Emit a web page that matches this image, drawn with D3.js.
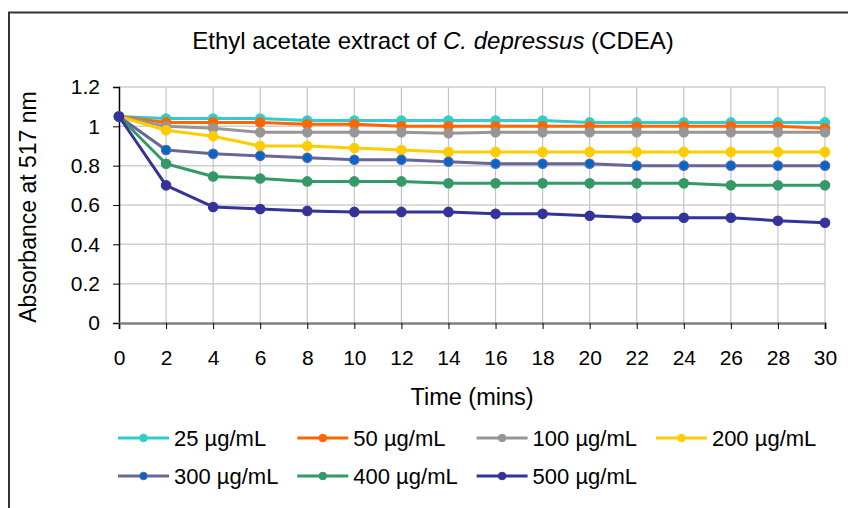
<!DOCTYPE html>
<html>
<head>
<meta charset="utf-8">
<script src="https://cdn.jsdelivr.net/npm/d3@7"></script>
<style>
  html, body { margin: 0; padding: 0; background: #fff; }
  svg { display: block; font-family: "Liberation Sans", Arial, sans-serif; }
</style>
</head>
<body>
<svg id="chart" width="848" height="508"></svg>
<script>
// time points (mins)
const times = [0, 2, 4, 6, 8, 10, 12, 14, 16, 18, 20, 22, 24, 26, 28, 30];
const yTicks = [0, 0.2, 0.4, 0.6, 0.8, 1, 1.2];

// absorbance readings per concentration
const conc25  = [1.05, 1.04, 1.04, 1.04, 1.03, 1.03, 1.03, 1.03, 1.03, 1.03, 1.02, 1.02, 1.02, 1.02, 1.02, 1.02];
const conc50  = [1.05, 1.02, 1.02, 1.02, 1.01, 1.01, 1.00, 1.00, 1.00, 1.00, 1.00, 1.00, 1.00, 1.00, 1.00, 0.99];
const conc100 = [1.05, 1.00, 0.99, 0.97, 0.97, 0.97, 0.97, 0.965, 0.97, 0.97, 0.97, 0.97, 0.97, 0.97, 0.97, 0.97];
const conc200 = [1.05, 0.98, 0.95, 0.90, 0.90, 0.89, 0.88, 0.87, 0.87, 0.87, 0.87, 0.87, 0.87, 0.87, 0.87, 0.87];
const conc300 = [1.05, 0.88, 0.86, 0.85, 0.84, 0.83, 0.83, 0.82, 0.81, 0.81, 0.81, 0.80, 0.80, 0.80, 0.80, 0.80];
const conc400 = [1.05, 0.81, 0.745, 0.735, 0.72, 0.72, 0.72, 0.71, 0.71, 0.71, 0.71, 0.71, 0.71, 0.70, 0.70, 0.70];
const conc500 = [1.05, 0.70, 0.59, 0.58, 0.57, 0.565, 0.565, 0.565, 0.555, 0.555, 0.545, 0.535, 0.535, 0.535, 0.52, 0.51];

const seriesNames = ["25 µg/mL", "50 µg/mL", "100 µg/mL", "200 µg/mL", "300 µg/mL", "400 µg/mL", "500 µg/mL"];
const seriesValues = [conc25, conc50, conc100, conc200, conc300, conc400, conc500];
const lineColors = ["#33CCCC", "#FF6600", "#969696", "#FFCC00", "#666699", "#339966", "#333399"];
const dotColors  = ["#33CCCC", "#FF6600", "#969696", "#FFCC00", "#0066CC", "#339966", "#333399"];

const svg = d3.select("#chart");
const plotL = 119, plotR = 825, plotT = 87, plotB = 323;
const xs = d3.scaleLinear().domain([0, 30]).range([plotL, plotR]);
const ys = d3.scaleLinear().domain([0, 1.2]).range([plotB, plotT]);

// chart area frame (right and bottom edge fall outside the picture)
svg.append("rect").attr("x", 9).attr("y", 12.5).attr("width", 900).attr("height", 600)
   .attr("fill", "none").attr("stroke", "#333").attr("stroke-width", 2);

// title
const title = svg.append("text").attr("x", 433).attr("y", 49).attr("text-anchor", "middle")
   .attr("font-size", 24).attr("fill", "#000");
title.append("tspan").text("Ethyl acetate extract of ");
title.append("tspan").attr("font-style", "italic").text("C. depressus");
title.append("tspan").text(" (CDEA)");

// grid
const grid = svg.append("g");
grid.selectAll("line.h").data(yTicks.slice(1)).enter().append("line")
    .attr("x1", plotL).attr("x2", plotR).attr("y1", d => ys(d)).attr("y2", d => ys(d))
    .attr("stroke", "#cfcfcf").attr("stroke-width", 1.5);
grid.selectAll("line.v").data(times.slice(1)).enter().append("line")
    .attr("x1", d => xs(d)).attr("x2", d => xs(d)).attr("y1", plotT).attr("y2", plotB)
    .attr("stroke", "#c4c4c4").attr("stroke-width", 1.2);

// axes
const yAxis = svg.append("g").attr("transform", `translate(${plotL},0)`)
    .call(d3.axisLeft(ys).tickValues(yTicks).tickSize(6).tickPadding(13).tickFormat(d => d3.format("~g")(d)));
yAxis.select(".domain").attr("stroke", "#000").attr("stroke-width", 1.5);
yAxis.selectAll(".tick line").attr("stroke", "#000");
yAxis.selectAll("text").attr("font-size", 21).attr("font-family", null).attr("fill", "#000");

const xAxis = svg.append("g").attr("transform", `translate(0,${plotB})`)
    .call(d3.axisBottom(xs).tickValues(times).tickSize(6).tickPadding(21));
xAxis.select(".domain").attr("stroke", "#808080").attr("stroke-width", 2.5);
xAxis.selectAll(".tick line").attr("stroke", "#000");
xAxis.selectAll("text").attr("font-size", 21).attr("font-family", null).attr("fill", "#000");

// axis titles
svg.append("text").attr("x", (plotL + plotR) / 2).attr("y", 405).attr("text-anchor", "middle")
   .attr("font-size", 23.5).text("Time (mins)");
svg.append("text").attr("transform", `translate(36,${(plotT + plotB) / 2 + 2}) rotate(-90)`)
   .attr("text-anchor", "middle").attr("font-size", 23).text("Absorbance at 517 nm");

// series
const line = d3.line().x((d, i) => xs(times[i])).y(d => ys(d));
const plot = svg.append("g");
seriesValues.forEach((vals, k) => {
    const g = plot.append("g");
    g.append("path").attr("d", line(vals)).attr("fill", "none")
     .attr("stroke", lineColors[k]).attr("stroke-width", 3).attr("stroke-linejoin", "round");
    g.selectAll("circle").data(vals).enter().append("circle")
     .attr("cx", (d, i) => xs(times[i])).attr("cy", d => ys(d)).attr("r", 4.7)
     .attr("fill", dotColors[k]).attr("stroke", lineColors[k]).attr("stroke-width", 1.2);
});

// legend
const legend = svg.append("g");
seriesNames.forEach((name, k) => {
    const col = k % 4, row = Math.floor(k / 4);
    const x0 = 118 + col * 179.3, y0 = 438 + row * 38;
    const item = legend.append("g").attr("transform", `translate(${x0},${y0})`);
    item.append("line").attr("x1", 0).attr("x2", 51).attr("y1", 0).attr("y2", 0)
        .attr("stroke", lineColors[k]).attr("stroke-width", 3);
    item.append("circle").attr("cx", 25.5).attr("cy", 0).attr("r", 3.8)
        .attr("fill", dotColors[k]).attr("stroke", lineColors[k]).attr("stroke-width", 1);
    item.append("text").attr("x", 56).attr("y", 8).attr("font-size", 22).text(name);
});
</script>
</body>
</html>
